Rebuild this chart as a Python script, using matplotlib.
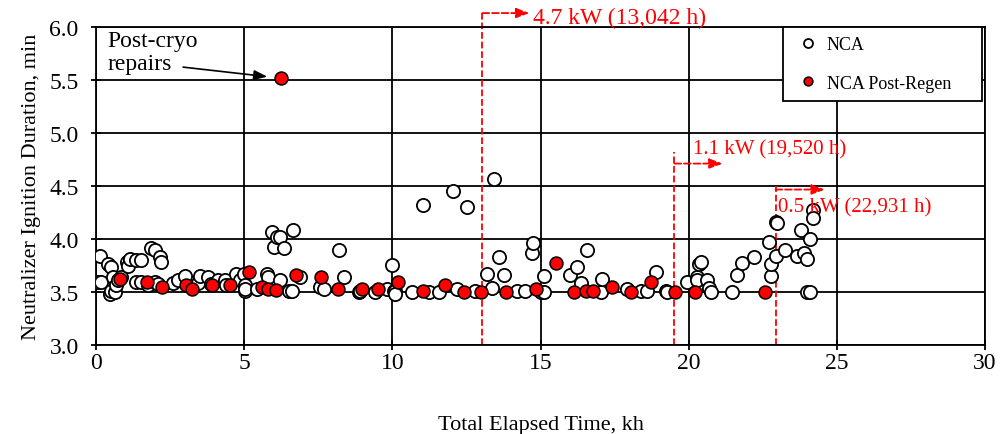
import matplotlib
matplotlib.use('Agg')
import matplotlib.pyplot as plt

plt.rcParams['font.family'] = ['Liberation Serif', 'DejaVu Serif']

# NCA (open circles): elapsed time, kh / ignition duration, min
nca_t = [0.02, 0.12, 0.18, 0.41, 0.46, 0.52, 0.52, 0.57, 0.63, 0.69, 0.74, 0.86,
         1.03, 1.08, 1.14, 1.36, 1.36, 1.53, 1.53, 1.76, 1.87, 1.98, 1.98, 2.1,
         2.15, 2.18, 2.6, 2.77, 3.0, 3.45, 3.5, 3.78, 3.87, 4.12, 4.35, 4.4,
         4.74, 4.85, 4.98, 5.02, 5.02, 5.03, 5.43, 5.77, 5.82, 5.93, 5.99, 6.1,
         6.22, 6.22, 6.33, 6.5, 6.61, 6.64, 6.89, 7.57, 7.68, 8.19, 8.36, 8.86,
         8.9, 9.43, 9.82, 9.99, 10.05, 10.1, 10.1, 10.67, 11.04, 11.23, 11.57,
         12.05, 12.19, 12.52, 12.8, 13.2, 13.37, 13.42, 13.59, 13.76, 14.21,
         14.49, 14.72, 14.75, 15.0, 15.11, 15.11, 15.99, 16.24, 16.35, 16.58,
         17.03, 17.08, 17.93, 18.38, 18.6, 18.89, 19.22, 19.27, 19.95, 20.29,
         20.29, 20.35, 20.41, 20.63, 20.69, 20.74, 21.47, 21.64, 21.81, 22.21,
         22.71, 22.77, 22.77, 22.94, 22.94, 22.97, 23.24, 23.65, 23.78, 23.9,
         24.01, 24.01, 24.1, 24.1, 24.18, 24.21]
nca_d = [3.59, 3.84, 3.59, 3.76, 3.48, 3.73, 3.51, 3.64, 3.50, 3.56, 3.61, 3.64,
         3.78, 3.74, 3.81, 3.80, 3.59, 3.80, 3.59, 3.56, 3.91, 3.89, 3.59, 3.57,
         3.83, 3.78, 3.58, 3.61, 3.65, 3.58, 3.65, 3.64, 3.57, 3.61, 3.61, 3.56,
         3.67, 3.61, 3.67, 3.56, 3.51, 3.53, 3.53, 3.67, 3.64, 4.06, 3.92, 4.02,
         4.02, 3.61, 3.91, 3.51, 3.51, 4.08, 3.64, 3.55, 3.53, 3.89, 3.64, 3.50,
         3.51, 3.50, 3.53, 3.75, 3.51, 3.51, 3.48, 3.50, 4.32, 3.50, 3.50,
         4.45, 3.53, 4.30, 3.51, 3.67, 3.54, 4.56, 3.83, 3.66, 3.51,
         3.51, 3.87, 3.96, 3.50, 3.65, 3.50, 3.66, 3.73, 3.58, 3.89,
         3.50, 3.62, 3.53, 3.51, 3.51, 3.69, 3.51, 3.50, 3.59, 3.64,
         3.61, 3.76, 3.78, 3.61, 3.54, 3.50, 3.50, 3.66, 3.77, 3.83,
         3.97, 3.65, 3.76, 4.16, 3.84, 4.15, 3.89, 3.84, 4.08, 3.87,
         3.81, 3.50, 4.00, 3.50, 4.27, 4.20]

# NCA Post-Regen (filled red)
regen_t = [0.81, 1.71, 2.24, 3.03, 3.24, 3.92, 4.53, 5.17, 5.6, 5.81, 6.07, 6.25,
           6.75, 7.59, 8.16, 8.97, 9.5, 10.18, 11.04, 11.79, 12.43, 13.0, 13.85,
           14.86, 15.51, 16.13, 16.54, 16.77, 17.4, 18.04, 18.74, 19.53, 20.2, 22.57]
regen_d = [3.62, 3.59, 3.55, 3.56, 3.53, 3.56, 3.56, 3.69, 3.55, 3.53, 3.52, 5.52,
           3.66, 3.64, 3.53, 3.53, 3.53, 3.59, 3.51, 3.56, 3.50, 3.50, 3.50,
           3.53, 3.77, 3.50, 3.51, 3.51, 3.55, 3.50, 3.59, 3.50, 3.50, 3.50]

# power level changes
event_t = [13.042, 19.52, 22.931]
event_lbl = ['4.7 kW (13,042 h)', '1.1 kW (19,520 h)', '0.5 kW (22,931 h)']

fig = plt.figure(figsize=(10, 4.35), dpi=100)
ax = fig.add_axes([0.096, 0.205, 0.889, 0.731])

ax.plot(nca_t, nca_d, 'o', ls='none', mfc='white', mec='black', mew=1.3,
        ms=9.5, label='NCA', zorder=3)
ax.plot(regen_t, regen_d, 'o', ls='none', mfc='red', mec='black', mew=1.1,
        ms=9.3, label='NCA Post-Regen', zorder=4)

# line top, arrow height, arrow tip, text x, text y, font size
geo = [(6.13, 6.13, 14.63, 14.76, 6.085, 17),
       (4.82, 4.71, 21.15, 20.14, 4.85, 15),
       (4.50, 4.465, 24.6, 23.0, 4.30, 15)]
for t0, lbl, (top, ya, xend, xt, yt, fs) in zip(event_t, event_lbl, geo):
    ax.plot([t0, t0], [3.0, top], color='red', ls='--', lw=1.3, clip_on=False, zorder=2)
    ax.annotate('', xy=(xend, ya), xytext=(t0, ya),
                arrowprops=dict(arrowstyle='-|>,head_length=0.8,head_width=0.3',
                                color='red', ls='--', lw=1.3, shrinkA=0, shrinkB=0),
                annotation_clip=False)
    ax.text(xt, yt, lbl, color='red', fontsize=fs, va='center', ha='left',
            clip_on=False)

ax.text(0.4, 5.97, 'Post-cryo\nrepairs', fontsize=17, va='top', ha='left',
        linespacing=1.12)
ax.annotate('', xy=(5.78, 5.53), xytext=(2.94, 5.62),
            arrowprops=dict(arrowstyle='-|>,head_length=0.8,head_width=0.3',
                            color='black', lw=1.2, shrinkA=0, shrinkB=0))

ax.set_xlim(0, 30)
ax.set_ylim(3.0, 6.0)
ax.set_xticks(range(0, 31, 5))
ax.set_yticks([3.0, 3.5, 4.0, 4.5, 5.0, 5.5, 6.0])
ax.set_yticklabels(['3.0', '3.5', '4.0', '4.5', '5.0', '5.5', '6.0'])
ax.grid(True, color='black', lw=1.3)
ax.set_axisbelow(True)
for s in ax.spines.values():
    s.set_linewidth(1.3)
ax.tick_params(direction='inout', length=7, width=1.3, labelsize=17)
ax.tick_params(axis='y', pad=9)
ax.tick_params(axis='x', pad=2)

ax.set_xlabel('Total Elapsed Time, kh', fontsize=16, labelpad=30)
ax.set_ylabel('Neutralizer Ignition Duration, min', fontsize=16, labelpad=6)

leg = ax.legend(loc='upper right', bbox_to_anchor=(0.773, 0.0, 0.2237, 1.0),
                mode='expand', fontsize=13, frameon=True, fancybox=False,
                framealpha=1, edgecolor='black', markerscale=0.68,
                handlelength=1.8, handletextpad=0.1, borderpad=0.5,
                labelspacing=1.2, borderaxespad=0.0)
leg.get_frame().set_linewidth(1.3)

fig.savefig('out.png', dpi=100)
